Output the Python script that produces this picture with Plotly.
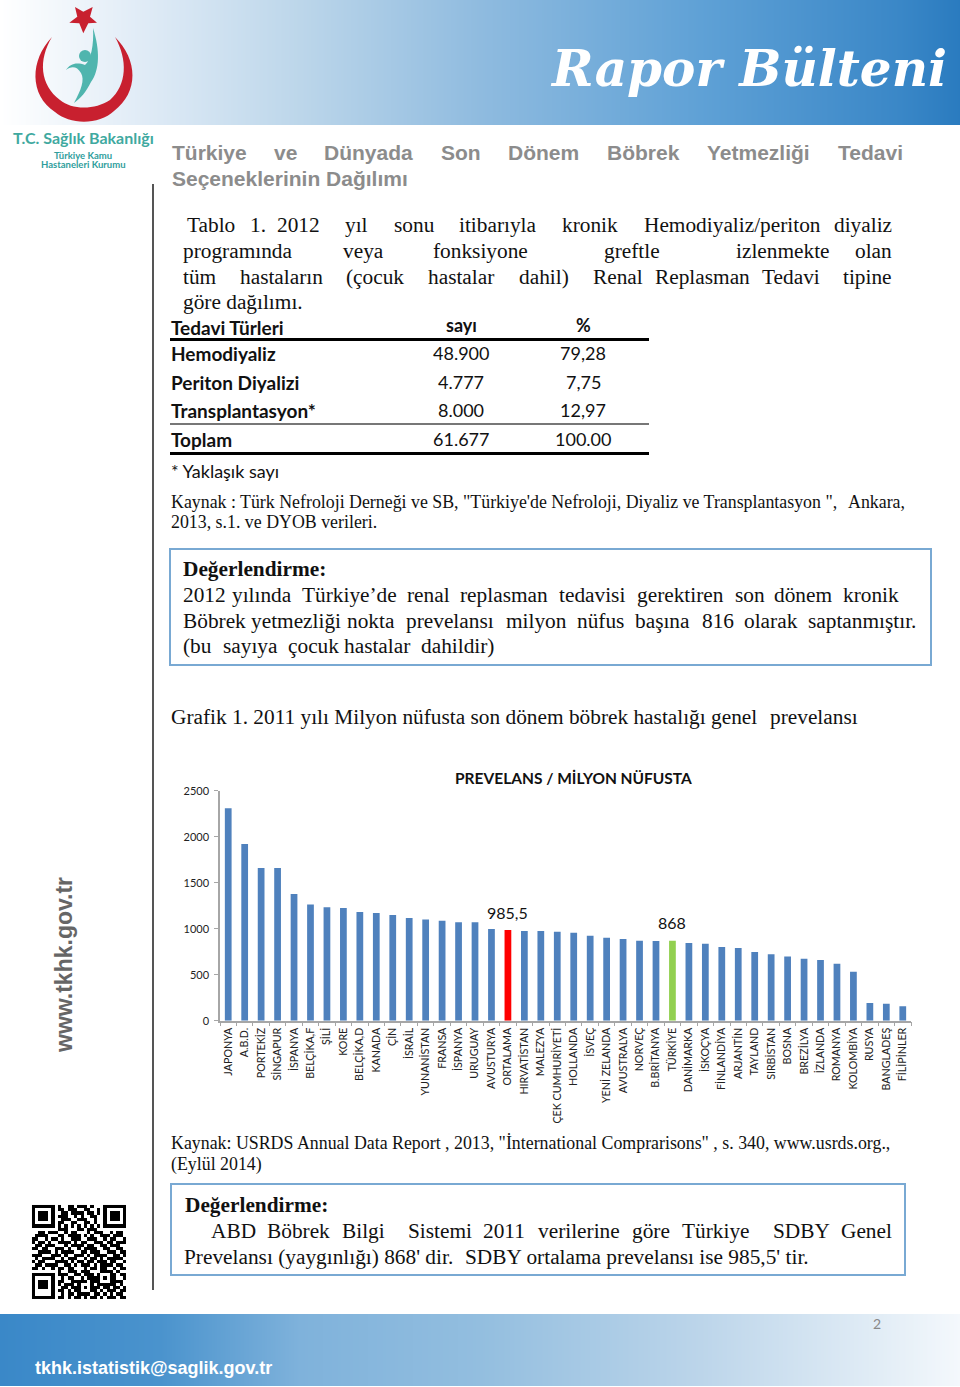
import plotly.graph_objects as go

# ---------- chart data ----------
categories = ["JAPONYA","A.B.D.","PORTEKİZ","SİNGAPUR","İSPANYA","BELÇİKA,F","ŞİLİ","KORE","BELÇİKA,D","KANADA",
              "ÇİN","İSRAİL","YUNANİSTAN","FRANSA","İSPANYA","URUGUAY","AVUSTURYA","ORTALAMA","HIRVATİSTAN","MALEZYA",
              "ÇEK CUMHURİYETİ","HOLLANDA","İSVEÇ","YENİ ZELANDA","AVUSTRALYA","NORVEÇ","B.BRİTANYA","TÜRKİYE","DANİMARKA","İSKOÇYA",
              "FİNLANDİYA","ARJANTİN","TAYLAND","SIRBİSTAN","BOSNA","BREZİLYA","İZLANDA","ROMANYA","KOLOMBİYA","RUSYA",
              "BANGLADEŞ","FİLİPİNLER"]
prevalence = [2308,1920,1659,1659,1377,1264,1232,1225,1181,1170,
              1148,1116,1101,1087,1069,1069,996,985.5,975,975,
              967,956,924,902,888,870,866,868,844,837,
              801,790,746,721,699,674,659,620,533,192,
              185,156]
highlight = {"ORTALAMA": ("#ff0000", "985,5"), "TÜRKİYE": ("#92d050", "868")}
chart_title = "PREVELANS / MİLYON NÜFUSTA"

table_head = ["Tedavi Türleri", "sayı", "%"]
table_names = ["Hemodiyaliz", "Periton Diyalizi", "Transplantasyon*", "Toplam"]
table_counts = ["48.900", "4.777", "8.000", "61.677"]
table_shares = ["79,28", "7,75", "12,97", "100.00"]

# ---------- page text: (y, [(x, word), ...]) ----------
heading_lines = [
    (152, [(172,"Türkiye"),(274,"ve"),(324,"Dünyada"),(441,"Son"),(508,"Dönem"),(607,"Böbrek"),(707,"Yetmezliği"),(838,"Tedavi")]),
    (178, [(172,"Seçeneklerinin Dağılımı")]),
]
body_lines = [
    (225, [(187,"Tablo"),(250,"1."),(277,"2012"),(345,"yıl"),(394,"sonu"),(459,"itibarıyla"),(562,"kronik"),(644,"Hemodiyaliz/periton"),(834,"diyaliz")]),
    (251, [(183,"programında"),(343,"veya"),(433,"fonksiyone"),(604,"greftle"),(736,"izlenmekte"),(855,"olan")]),
    (277, [(183,"tüm"),(240,"hastaların"),(346,"(çocuk"),(428,"hastalar"),(519,"dahil)"),(593,"Renal"),(655,"Replasman"),(762,"Tedavi"),(843,"tipine")]),
    (302, [(183,"göre dağılımı.")]),
    (595, [(183,"2012"),(232,"yılında"),(302,"Türkiye’de"),(407,"renal"),(460,"replasman"),(559,"tedavisi"),(637,"gerektiren"),(735,"son"),(774,"dönem"),(843,"kronik")]),
    (621, [(183,"Böbrek"),(251,"yetmezliği"),(347,"nokta"),(406,"prevelansı"),(506,"milyon"),(577,"nüfus"),(635,"başına"),(702,"816"),(744,"olarak"),(808,"saptanmıştır.")]),
    (646, [(183,"(bu"),(223,"sayıya"),(288,"çocuk"),(344,"hastalar"),(421,"dahildir)")]),
    (717, [(171,"Grafik 1. 2011 yılı Milyon nüfusta son dönem böbrek hastalığı genel"),(770,"prevelansı")]),
    (1231, [(211,"ABD"),(267,"Böbrek"),(342,"Bilgi"),(408,"Sistemi"),(483,"2011"),(538,"verilerine"),(632,"göre"),(682,"Türkiye"),(773,"SDBY"),(841,"Genel")]),
    (1257, [(184,"Prevelansı (yaygınlığı) 868' dir."),(465,"SDBY ortalama prevelansı ise 985,5' tir.")]),
]
bold_lines = [(569, [(183,"Değerlendirme:")]), (1205, [(185,"Değerlendirme:")])]
source_lines = [
    (502, [(171,"Kaynak : Türk Nefroloji Derneği ve SB, \"Türkiye'de Nefroloji, Diyaliz ve Transplantasyon \","),(848,"Ankara,")]),
    (522, [(171,"2013, s.1. ve DYOB verileri.")]),
    (1143, [(171,"Kaynak: USRDS Annual Data Report , 2013, \"İnternational Comprarisons\" , s. 340, www.usrds.org.,")]),
    (1164, [(171,"(Eylül 2014)")]),
]

qr_rows = [
"11111110100110111010001111111","10000010110111001100101000001","10111010011011110110101011101",
"10111010111001010011001011101","10111010011100111001001011101","10000010110011001101001000001",
"11111110101010101010101111111","00000000111000110111000000000","00110111001011000101110010110",
"01111000110111101010011101110","11001011010011100111001011001","10110100111101011001110110111",
"01101110001011110110011011100","11011001110100101111001100110","00111101011110011011100111011",
"11100011101001110101111001101","01011110010111001011010111110","10110001111010110110111011001",
"01101111001101011101011110110","11010010110110001011011001011","00000000100111011100011110100",
"11111110111001101110100011011","10000010010110010111101011001","10111010110011111011100011110",
"10111010101110100010111111010","10111010011011101011101101101","10000010110101100011010111011",
"10000010010110111101101010110","11111110110101101011010111011",
]

SERIF = "Liberation Serif"; SANS = "Liberation Sans"; CAL = "Lato"
W, H = 960, 1387
fig = go.Figure()

# ---------- the bar chart ----------
xs = list(range(len(categories)))
colors = [highlight.get(c, ("#4f81bd",))[0] for c in categories]
fig.add_trace(go.Bar(x=xs, y=prevalence, marker=dict(color=colors, line_width=0), width=0.41,
                     xaxis="x", yaxis="y", showlegend=False))
AX = "#a6a6a6"
fig.update_layout(
    xaxis=dict(domain=[220/W, 911/W], range=[-0.5, len(categories)-0.5], tickmode="array", tickvals=xs,
               ticktext=categories, tickangle=-90, ticks="", ticklabelstandoff=1, showgrid=False, zeroline=False,
               showline=True, linecolor=AX, linewidth=1.5, tickfont=dict(family=CAL, size=10.7, color="#222"),
               minor=dict(ticks="outside", ticklen=4, tickcolor=AX, tickwidth=1, tickmode="array",
                          tickvals=[i-0.5 for i in range(len(categories)+1)], showgrid=False),
               anchor="y", automargin=False),
    yaxis=dict(domain=[1-1020.7/H, 1-790.7/H], range=[0, 2500], tick0=0, dtick=500, ticks="outside", ticklen=4,
               ticklabelstandoff=3, tickcolor=AX, showgrid=False, zeroline=False, showline=True, linecolor=AX, linewidth=1.5,
               tickfont=dict(family=CAL, size=11, color="#222"), anchor="x", automargin=False),
    xaxis2=dict(domain=[0,1], range=[0,W], visible=False, anchor="y2", fixedrange=True, automargin=False),
    yaxis2=dict(domain=[0,1], range=[H,0], visible=False, anchor="x2", fixedrange=True, automargin=False),
)

# ---------- page decoration ----------
def gradient(y0, y1, stops):
    px = [s[0] for s in stops]
    scale = [[(p-px[0])/(px[-1]-px[0]), c] for p, c in stops]
    h = (y1-y0)/4
    fig.add_trace(go.Heatmap(x=px, y=[y0+h, y1-h], z=[px, px], colorscale=scale, showscale=False, zsmooth="best",
                             hoverinfo="skip", xaxis="x2", yaxis="y2"))

gradient(0, 125, [(0,"#ffffff"),(160,"#dce9f5"),(300,"#bcd6ea"),(480,"#8fbbdf"),(700,"#5fa1d6"),(900,"#3a87c7"),(960,"#2a7bbf")])
gradient(1314, 1386, [(0,"#3a88c8"),(160,"#4a93cd"),(300,"#7fb2db"),(480,"#93bedf"),(700,"#bcd5ea"),(880,"#e2edf6"),(960,"#f4f8fc")])

qr = [[1-int(ch) for ch in r[:29].ljust(29,"0")] for r in qr_rows]
fig.add_trace(go.Heatmap(z=qr, x0=32+1.6, dx=3.23, y0=1205+1.6, dy=3.23, colorscale=[[0,"#000"],[1,"#fff"]],
                         showscale=False, hoverinfo="skip", xaxis="x2", yaxis="y2"))

def shape(**k):
    fig.add_shape(xref="x2", yref="y2", **k)

def rect(x0,y0,x1,y1,line,width,fill="rgba(0,0,0,0)"):
    shape(type="rect", x0=x0,y0=y0,x1=x1,y1=y1,line=dict(color=line,width=width),fillcolor=fill)

def hline(x0,x1,y,color,width):
    shape(type="line", x0=x0,x1=x1,y0=y,y1=y,line=dict(color=color,width=width))

RED="#c8202f"; TEAL="#4fb5ae"
shape(type="path", path="M75 7 L83.3 11.7 L92.7 7 L90 16.7 L97 22.7 L88.3 23.3 L83.3 33.3 L79.3 23.3 L69.3 22.7 L77.3 16.7 Z",
      fillcolor=RED, line_width=0)
shape(type="path", path="M52 37 C30 60 29 95 55 112 C70 125 99 125 114 111 C139 92 138 60 115 37 C128 60 127 85 110 100 C95 110 72 110 60 100 C40 85 38 60 52 37 Z",
      fillcolor=RED, line_width=0)
shape(type="circle", x0=79, y0=50, x1=91, y1=62, fillcolor=TEAL, line_width=0)
shape(type="path", path="M93 28 C100 50 100 70 91 82 C86 92 81 98 74 103 C81 90 85 80 81 73 C77 66 71 66 66 70 C70 64 76 62 85 65 C91 60 94 45 93 28 Z",
      fillcolor=TEAL, line_width=0)

hline(170,649,339.5,"#000",3); hline(170,649,424,"#777",2); hline(170,649,453.5,"#000",3)
shape(type="line", x0=153,x1=153,y0=184,y1=1290,line=dict(color="#555",width=2))
rect(170,549,931,665,"#79a9d3",2)
rect(171,1184,905,1275,"#79a9d3",2)

# ---------- text ----------
def txt(x,y,s,family,size,color="#111",anchor="left",angle=0,weight=None,style=None,ya="middle"):
    f = dict(family=family,size=size,color=color)
    if weight: f["weight"]=weight
    if style: f["style"]=style
    fig.add_annotation(x=x,y=y,xref="x2",yref="y2",text=s,showarrow=False,xanchor=anchor,yanchor=ya,font=f,
                       textangle=angle,borderpad=0,borderwidth=0)

def lines(rows,**k):
    for y,words in rows:
        for x,w in words:
            txt(x,y,w,**k)

lines(heading_lines,family=SANS,size=21,color="#8c8c8c",weight=700)
lines(body_lines,family=SERIF,size=21.33,color="#111")
lines(bold_lines,family=SERIF,size=21.33,color="#111",weight=700)
lines(source_lines,family=SERIF,size=17.85,color="#111")

txt(171,327,table_head[0],CAL,19,weight=700)
txt(461,325,table_head[1],CAL,18,anchor="center",weight=700)
txt(583,325,table_head[2],CAL,18,anchor="center",weight=700)
for y,n,c,s in zip([353,382,410,439],table_names,table_counts,table_shares):
    txt(171,y,n,CAL,19,weight=700)
    txt(461,y,c,CAL,18,anchor="center")
    txt(583,y,s,CAL,18,anchor="center")
txt(171,471,"* Yaklaşık sayı",CAL,18)

txt(748,68,"Rapor Bülteni","DejaVu Serif",50,color="#fff",anchor="center",weight=700,style="italic")
txt(83,137,"T.C. Sağlık Bakanlığı",CAL,16,color="#3fa9a0",anchor="center",weight=700)
txt(83,155,"Türkiye Kamu",CAL,9.5,color="#2f9e9c",anchor="center",weight=700)
txt(83,164,"Hastaneleri Kurumu",CAL,9.5,color="#2f9e9c",anchor="center",weight=700)
txt(64,965,"www.tkhk.gov.tr",SANS,23,color="#666",anchor="center",angle=-90,weight=700)
txt(35,1368,"tkhk.istatistik@saglik.gov.tr",SANS,18,color="#fff",weight=700)
txt(877,1323,"2",CAL,14,color="#888",anchor="center")

txt(573,778,chart_title,CAL,15.5,color="#111",anchor="center",weight=700)
for c,v in zip(categories,prevalence):
    if c in highlight:
        fig.add_annotation(x=categories.index(c),y=v,xref="x",yref="y",text=highlight[c][1],showarrow=False,
                           yanchor="middle",yshift=18,font=dict(family=CAL,size=16,color="#111"))

fig.update_layout(width=W,height=H,margin=dict(l=0,r=0,t=0,b=0,autoexpand=False),paper_bgcolor="#fff",plot_bgcolor="rgba(0,0,0,0)",
                  showlegend=False,bargap=0.6)
fig.write_html("out.html", config=dict(displayModeBar=False))

with open("out.html", encoding="utf-8") as fh:
    page = fh.read()
page = page.replace("<body>", "<body style=\"margin:0\">", 1)
with open("out.html", "w", encoding="utf-8") as fh:
    fh.write(page)
